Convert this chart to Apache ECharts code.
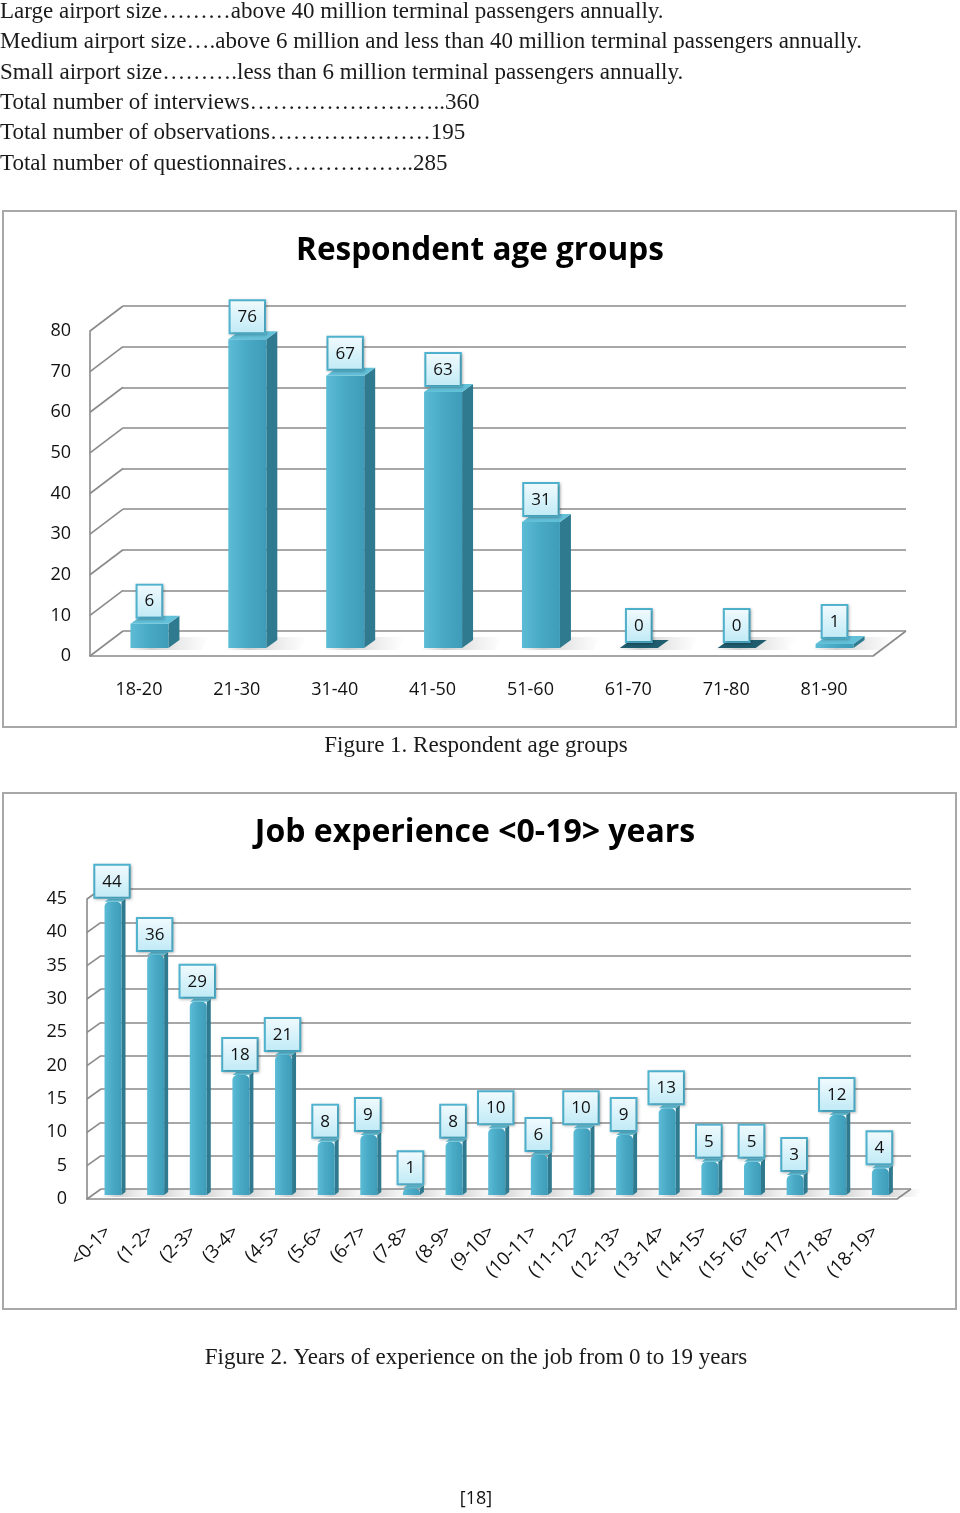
<!DOCTYPE html>
<html><head><meta charset="utf-8">
<script src="https://cdn.jsdelivr.net/npm/echarts/dist/echarts.min.js"></script>
<style>html,body{margin:0;padding:0;background:#fff}#c{width:960px;height:1513px}</style>
</head><body><div id="c"></div>
<script>
// ---------- data ----------
const introLines = [
  'Large airport size\u2026\u2026\u2026above 40 million terminal passengers annually.',
  'Medium airport size\u2026.above 6 million and less than 40 million terminal passengers annually.',
  'Small airport size\u2026\u2026\u2026.less than 6 million terminal passengers annually.',
  'Total number of interviews\u2026\u2026\u2026\u2026\u2026\u2026\u2026\u2026..360',
  'Total number of observations\u2026\u2026\u2026\u2026\u2026\u2026\u2026195',
  'Total number of questionnaires\u2026\u2026\u2026\u2026\u2026..285'
];
const ageTitle = 'Respondent age groups';
const ageCategories = ['18-20','21-30','31-40','41-50','51-60','61-70','71-80','81-90'];
const ageCounts = [6,76,67,63,31,0,0,1];
const ageTicks = [0,10,20,30,40,50,60,70,80];
const ageCaption = 'Figure 1. Respondent age groups';

const expTitle = 'Job experience <0-19> years';
const expCategories = ['<0-1>','(1-2>','(2-3>','(3-4>','(4-5>','(5-6>','(6-7>','(7-8>','(8-9>','(9-10>',
  '(10-11>','(11-12>','(12-13>','(13-14>','(14-15>','(15-16>','(16-17>','(17-18>','(18-19>'];
const expCounts = [44,36,29,18,21,8,9,1,8,10,6,10,9,13,5,5,3,12,4];
const expTicks = [0,5,10,15,20,25,30,35,40,45];
const expCaption = 'Figure 2. Years of experience on the job from 0 to 19 years';
const pageNumber = '[18]';

// ---------- style ----------
const GRID_COLOR = '#8a8a8a';
const SANS = '"Open Sans", "Noto Sans", sans-serif';
const SERIF = '"Liberation Serif", "DejaVu Serif", serif';

const chart = echarts.init(document.getElementById('c'), null, {renderer: 'canvas'});

function frontFill(){
  return new echarts.graphic.LinearGradient(0,0,1,0,[
    {offset:0,color:'#5cbcd6'},{offset:0.45,color:'#4aabc7'},{offset:1,color:'#3e9cb8'}]);
}
function labelStyle(text){
  return {
    text: String(text), font: '17px ' + SANS, fill: '#111',
    align: 'center', verticalAlign: 'bottom', lineHeight: 20,
    padding: [6, 7, 5, 7],
    backgroundColor: new echarts.graphic.LinearGradient(0,0,0,1,[
      {offset:0,color:'#f2fbfe'},{offset:1,color:'#bfeaf6'}]),
    borderColor: '#4fb3cf', borderWidth: 2,
    shadowColor: 'rgba(0,0,0,0.25)', shadowBlur: 3, shadowOffsetX: 1, shadowOffsetY: 1
  };
}
// cfg: fx,fy = offset of bar plane from front plane; w = bar width; dx,dy = bar depth; gap
function barRenderer(cfg){
  return function(params, api){
    const i = api.value(0), v = api.value(1);
    const t = api.coord([i, v]), b = api.coord([i, 0]);
    const cx = t[0] + cfg.fx;
    const yt = t[1] + cfg.fy, yb = b[1] + cfg.fy;
    const xl = cx - cfg.w/2, xr = cx + cfg.w/2;
    const dx = cfg.dx, dy = cfg.dy;
    const ch = [];
    // floor shadow
    ch.push({type:'polygon', shape:{points:[[xl-4,yb+2],[xr+dx+22,yb+2],[xr+dx+30,yb+dy-3],[xl+dx+6,yb+dy-3]]},
      style:{fill:new echarts.graphic.LinearGradient(0,0,1,0,[
        {offset:0,color:'rgba(120,120,120,0.0)'},{offset:0.3,color:'rgba(120,120,120,0.35)'},{offset:1,color:'rgba(160,160,160,0)'}])}});
    if (v > 0) {
      ch.push({type:'polygon', shape:{points:[[xr,yt],[xr+dx,yt+dy],[xr+dx,yb+dy],[xr,yb]]},
        style:{fill:'#2f7a8f'}});
      ch.push({type:'rect', shape:{x:xl,y:yt,width:cfg.w,height:yb-yt, r: cfg.r || 0},
        style:{fill:frontFill()}});
      ch.push({type:'polygon', shape:{points:[[xl,yt],[xr,yt],[xr+dx,yt+dy],[xl+dx,yt+dy]]},
        style:{fill:'#62c0d9'}});
    } else {
      ch.push({type:'polygon', shape:{points:[[xl,yt],[xr,yt],[xr+dx,yt+dy],[xl+dx,yt+dy]]},
        style:{fill:'#1f5d6e'}});
    }
    ch.push({type:'text', x: cx + (cfg.lx||0), y: yt + dy - cfg.gap, style: labelStyle(v)});
    return {type:'group', children: ch};
  };
}
function diagRenderer(off){
  return function(params, api){
    const v = api.value(1);
    const cs = params.coordSys;
    const p = api.coord([0, v]);
    const ch = [{type:'line', shape:{x1:cs.x, y1:p[1], x2:cs.x+off[0], y2:p[1]+off[1]},
      style:{stroke:GRID_COLOR, lineWidth:1.6}}];
    if (v === 0) {
      ch.push({type:'line', shape:{x1:cs.x+cs.width, y1:p[1], x2:cs.x+cs.width+off[0], y2:p[1]+off[1]},
        style:{stroke:GRID_COLOR, lineWidth:1.6}});
    }
    return {type:'group', children: ch};
  };
}

// ---------- layout constants ----------
const A = {left:90, right:873, top:331, bottom:656, off:[33,-25]};
const E = {left:87, right:897, top:899, bottom:1199, off:[14,-10]};

function frontGrid(L){ return {left:L.left, top:L.top, width:L.right-L.left, height:L.bottom-L.top}; }
function backGrid(L){ return {left:L.left+L.off[0], top:L.top+L.off[1], width:L.right-L.left, height:L.bottom-L.top}; }

const option = {
  backgroundColor: '#fff',
  animation: false,
  grid: [frontGrid(A), backGrid(A), frontGrid(E), backGrid(E)],
  xAxis: [
    {gridIndex:0, type:'category', data:ageCategories,
      axisLine:{show:true, lineStyle:{color:GRID_COLOR, width:1.6}}, axisTick:{show:false},
      axisLabel:{margin:25, color:'#111', fontSize:18, fontFamily:SANS}},
    {gridIndex:1, type:'category', data:ageCategories, show:false},
    {gridIndex:2, type:'category', data:expCategories,
      axisLine:{show:true, lineStyle:{color:GRID_COLOR, width:1.6}}, axisTick:{show:false},
      axisLabel:{margin:30, rotate:45, interval:0, color:'#111', fontSize:18.5, fontFamily:SANS}},
    {gridIndex:3, type:'category', data:expCategories, show:false}
  ],
  yAxis: [
    {gridIndex:0, type:'value', min:ageTicks[0], max:ageTicks[ageTicks.length-1], interval:ageTicks[1]-ageTicks[0],
      axisLine:{show:true, lineStyle:{color:GRID_COLOR, width:1.6}}, axisTick:{show:false}, splitLine:{show:false},
      axisLabel:{margin:19, color:'#111', fontSize:18, fontFamily:SANS}},
    {gridIndex:1, type:'value', min:ageTicks[0], max:ageTicks[ageTicks.length-1], interval:ageTicks[1]-ageTicks[0],
      axisLine:{show:false}, axisTick:{show:false}, axisLabel:{show:false},
      splitLine:{show:true, lineStyle:{color:GRID_COLOR, width:1.6}}},
    {gridIndex:2, type:'value', min:expTicks[0], max:expTicks[expTicks.length-1], interval:expTicks[1]-expTicks[0],
      axisLine:{show:true, lineStyle:{color:GRID_COLOR, width:1.6}}, axisTick:{show:false}, splitLine:{show:false},
      axisLabel:{margin:20, color:'#111', fontSize:18, fontFamily:SANS}},
    {gridIndex:3, type:'value', min:expTicks[0], max:expTicks[expTicks.length-1], interval:expTicks[1]-expTicks[0],
      axisLine:{show:false}, axisTick:{show:false}, axisLabel:{show:false},
      splitLine:{show:true, lineStyle:{color:GRID_COLOR, width:1.6}}}
  ],
  series: [
    {type:'custom', xAxisIndex:0, yAxisIndex:0, z:1, renderItem: diagRenderer(A.off),
      data: ageTicks.map(t => [0, t])},
    {type:'custom', xAxisIndex:0, yAxisIndex:0, z:3,
      renderItem: barRenderer({fx:10.5, fy:-8, w:38, dx:11, dy:-8, gap:-1}),
      data: ageCounts.map((v,i) => [i, v])},
    {type:'custom', xAxisIndex:2, yAxisIndex:2, z:1, renderItem: diagRenderer(E.off),
      data: expTicks.map(t => [0, t])},
    {type:'custom', xAxisIndex:2, yAxisIndex:2, z:3,
      renderItem: barRenderer({fx:4.7, fy:-4, w:17, dx:4, dy:-3, gap:2, r:[5,5,0,0], lx:-1}),
      data: expCounts.map((v,i) => [i, v])}
  ],
  graphic: [
    // frames
    {type:'rect', shape:{x:3, y:211, width:953, height:516}, style:{fill:null, stroke:'#a8a8a8', lineWidth:2}, z:-1},
    {type:'rect', shape:{x:3, y:793, width:953, height:516}, style:{fill:null, stroke:'#a8a8a8', lineWidth:2}, z:-1},
    // intro text
    ...introLines.map((t, k) => ({type:'text', x:0, y:12 + k*30.3,
      style:{text:t, font:'23px ' + SERIF, fill:'#1a1a1a', verticalAlign:'middle'}})),
    // titles
    {type:'text', x:480, y:251, style:{text:ageTitle, font:'bold 31.5px ' + SANS, fill:'#000', align:'center', verticalAlign:'middle'}},
    {type:'text', x:475, y:833, style:{text:expTitle, font:'bold 32px ' + SANS, fill:'#000', align:'center', verticalAlign:'middle'}},
    // captions
    {type:'text', x:476, y:746, style:{text:ageCaption, font:'23px ' + SERIF, fill:'#1a1a1a', align:'center', verticalAlign:'middle'}},
    {type:'text', x:476, y:1358, style:{text:expCaption, font:'23px ' + SERIF, fill:'#1a1a1a', align:'center', verticalAlign:'middle'}},
    {type:'text', x:476, y:1499, style:{text:pageNumber, font:'18px ' + SANS, fill:'#111', align:'center', verticalAlign:'middle'}}
  ]
};
chart.setOption(option);
</script>
</body></html>
